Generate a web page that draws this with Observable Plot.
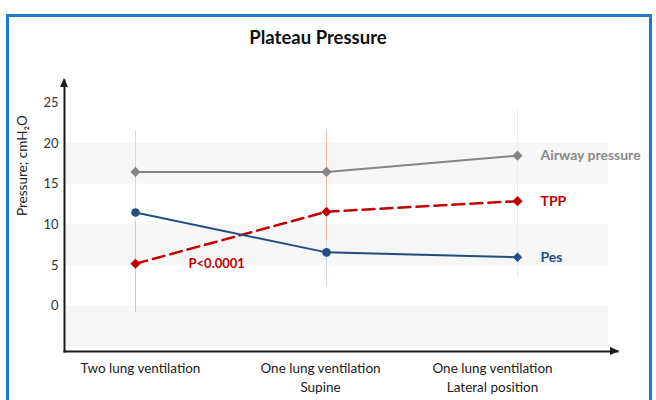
<!DOCTYPE html>
<html><head><meta charset="utf-8">
<script src="https://cdn.jsdelivr.net/npm/d3@7"></script>
<script src="https://cdn.jsdelivr.net/npm/@observablehq/plot@0.6"></script>
<style>
html,body{margin:0;padding:0;background:#fff;}
#wrap{position:relative;width:656px;height:400px;overflow:hidden;font-family:Lato,"Open Sans",sans-serif;}
#border{position:absolute;left:6px;top:14px;width:640px;height:400px;border:3px solid #1d7ad0;}
#title{position:absolute;left:0;width:636px;top:26px;text-align:center;font-weight:700;font-size:18.5px;line-height:22px;color:#111;}
#chart{position:absolute;left:0;top:0;}
</style></head>
<body><div id="wrap"><div id="border"></div><div id="chart"></div><div id="title">Plateau Pressure</div></div>
<script>
// ---- data ----
const categories = ["Two lung ventilation", "One lung ventilation\nSupine", "One lung ventilation\nLateral position"];
const seriesNames = ["Airway pressure", "TPP", "Pes"];
const airwayValues = [16.5, 16.5, 18.5];
const tppValues = [5.2, 11.6, 12.9];
const pesValues = [11.5, 6.6, 6.0];
const yTicks = [0, 5, 10, 15, 20, 25];
const yLabel = "Pressure; cmH\u2082O";
const titleText = "Plateau Pressure";
const annotationText = "P<0.0001";
// vertical spread bars (category index, low, high)
const errCategoryIndex = [0, 0, 1, 1, 2];
const errLow = [11.5, -0.8, 8.0, 2.3, 3.5];
const errHigh = [21.6, 10.5, 21.6, 8.0, 24.1];
// shaded bands (low, high)
const bandLow = [15, 5, -5];
const bandHigh = [20, 10, 0];

// ---- styles ----
const seriesColors = ["#858585", "#c00000", "#234f80"];
const seriesDash = [null, "12,6", null];
const seriesWidth = [2, 2.5, 2];
const labelColors = ["#8a8a8a", "#c00000", "#234f80"];
const errColors = ["#cfd9e5", "#f3b8b8", "#f2b5b5", "#cfd9e5", "#f3e9e9"];
const pesSymbols = ["circle", "circle", "diamond2"];
const xLabelDx = [5, -6, -25];

document.getElementById("title").textContent = titleText;

const seriesValues = [airwayValues, tppValues, pesValues];
const rows = [];
seriesNames.forEach((s, si) => categories.forEach((c, ci) => rows.push({series: s, si, category: c, ci, value: seriesValues[si][ci]})));
const errs = errCategoryIndex.map((ci, i) => ({category: categories[ci], low: errLow[i], high: errHigh[i], color: errColors[i]}));
const bands = bandLow.map((l, i) => ({low: l, high: bandHigh[i]}));

const marginLeft = 64, marginRight = 39, marginTop = 80, marginBottom = 49;

const marks = [
  Plot.rect(bands, {y1: "low", y2: "high", fill: "#f6f6f6", insetLeft: 2, insetRight: 9}),
  Plot.ruleX(errs, {x: "category", y1: "low", y2: "high", stroke: "color", strokeWidth: 1}),
];
seriesNames.forEach((s, si) => {
  const d = rows.filter(r => r.si === si);
  marks.push(Plot.line(d, {x: "category", y: "value", stroke: seriesColors[si], strokeWidth: seriesWidth[si], strokeDasharray: seriesDash[si] || undefined}));
});
seriesNames.forEach((s, si) => {
  const d = rows.filter(r => r.si === si);
  marks.push(Plot.dot(d, {x: "category", y: "value", fill: seriesColors[si], stroke: "none",
    symbol: si === 2 ? (r) => pesSymbols[r.ci] : "diamond2", r: si === 2 ? 4.3 : 4.6}));
});
// series labels at last points
marks.push(Plot.text(rows.filter(r => r.ci === categories.length - 1), {
  x: "category", y: "value", text: "series", fill: (r) => labelColors[r.si], dx: 23, textAnchor: "start",
  fontWeight: "bold", fontSize: 14
}));
// annotation near TPP first point
marks.push(Plot.text([{category: categories[0], value: tppValues[0], text: annotationText}], {
  x: "category", y: "value", text: "text", fill: "#c00000", dx: 53, textAnchor: "start", fontWeight: "bold", fontSize: 13
}));
// x labels
categories.forEach((c, i) => {
  marks.push(Plot.text([c], {x: d => d, text: d => d, frameAnchor: "bottom", lineAnchor: "top", dy: 8, dx: xLabelDx[i],
    fontSize: 13.5, lineHeight: 1.4, fill: "#222"}));
});
marks.push(Plot.axisY(yTicks, {tickSize: 0, tickPadding: 6, fontSize: 13, color: "#333", label: null}));
marks.push(Plot.text([yLabel], {text: d => d, frameAnchor: "left", rotate: -90, dx: -42, fontSize: 13.5, fill: "#222"}));
marks.push(Plot.frame({anchor: "left", stroke: "#1a1a1a", strokeWidth: 2}));
marks.push(Plot.frame({anchor: "bottom", stroke: "#1a1a1a", strokeWidth: 2}));

const plot = Plot.plot({
  width: 656, height: 400,
  marginLeft, marginRight, marginTop, marginBottom,
  style: {fontFamily: "Lato, 'Open Sans', sans-serif", fontSize: "12.5px", color: "#222", background: "transparent", overflow: "visible"},
  x: {type: "point", domain: categories, range: [134, 517], padding: 0, axis: null},
  y: {domain: [-5.6, 27.75], axis: null},
  marks
});
document.getElementById("chart").appendChild(plot);

// arrowheads on the axes
const svg = d3.select(plot);
const xL = marginLeft, yT = marginTop, yB = 400 - marginBottom, xR = 656 - marginRight;
svg.append("path").attr("d", `M${xL},${yT - 2}L${xL - 4},${yT + 7}L${xL + 4},${yT + 7}Z`).attr("fill", "#1a1a1a");
svg.append("path").attr("d", `M${xR + 2},${yB}L${xR - 7},${yB - 4}L${xR - 7},${yB + 4}Z`).attr("fill", "#1a1a1a");
</script>
</body></html>
